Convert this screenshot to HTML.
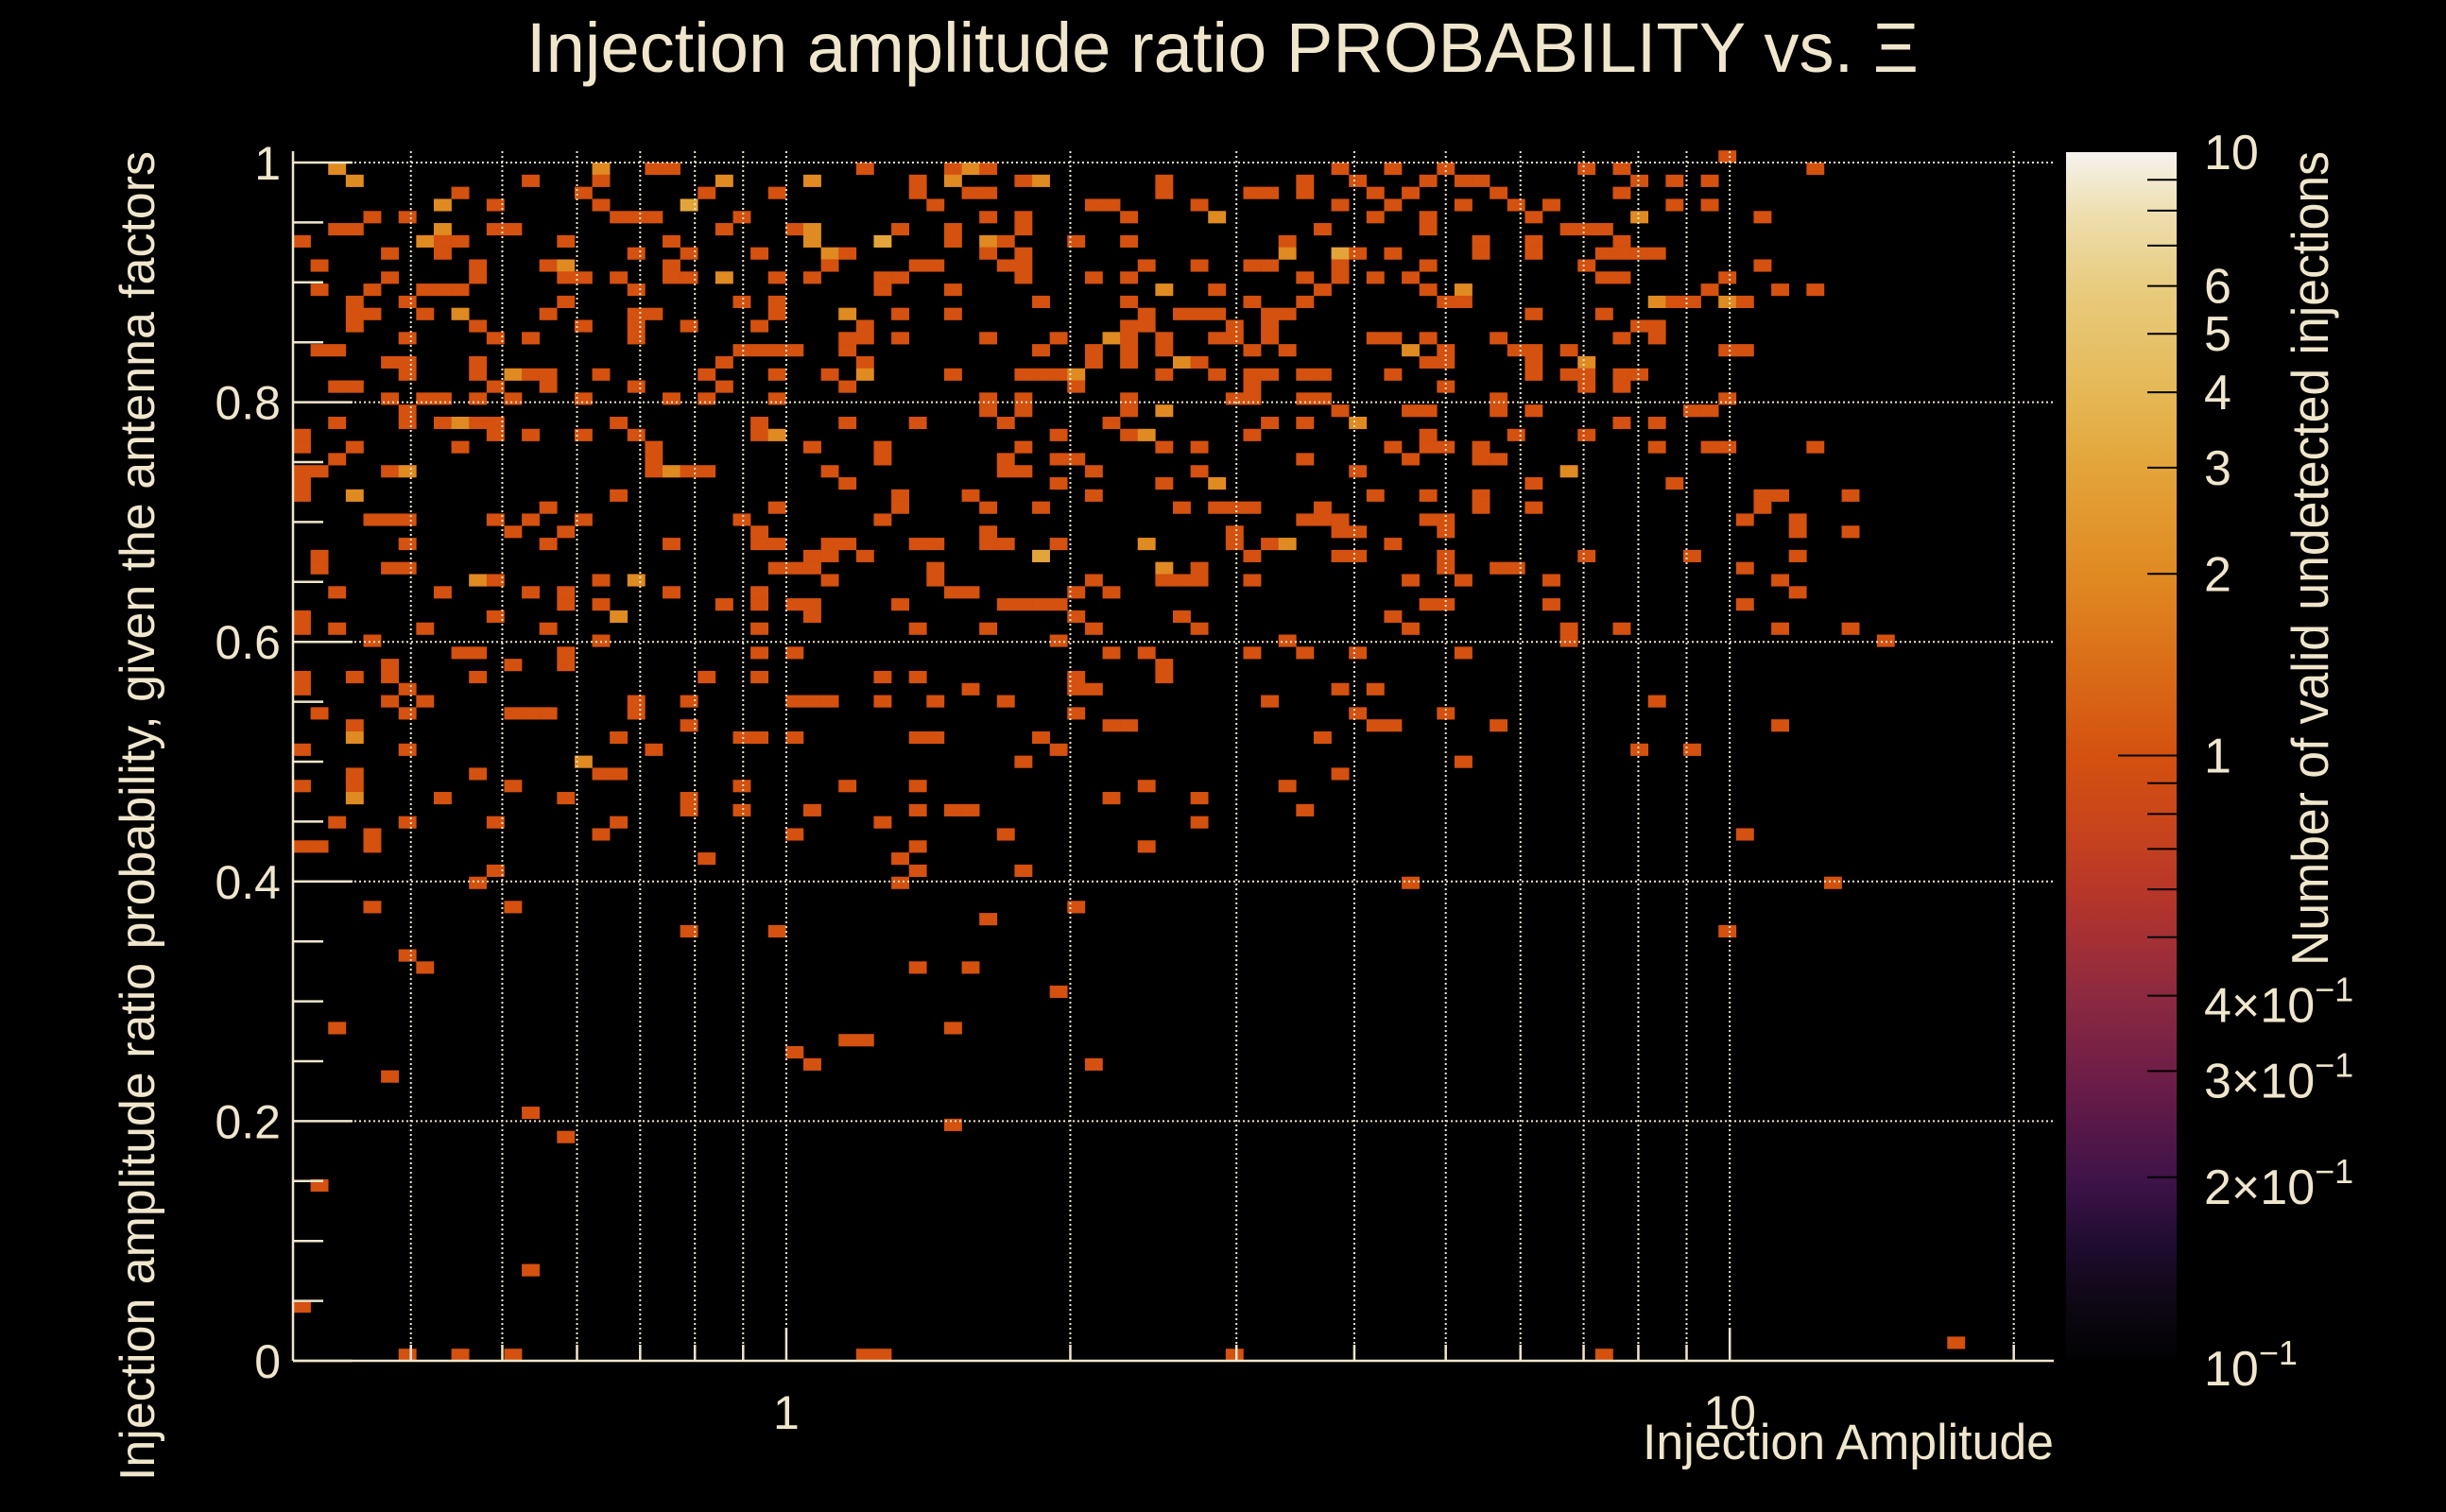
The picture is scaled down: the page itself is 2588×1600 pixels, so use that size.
<!DOCTYPE html>
<html><head><meta charset="utf-8">
<style>
html,body{margin:0;padding:0;background:#000;}
svg{display:block;}
text{font-family:"Liberation Sans",Arial,sans-serif;fill:#efe6cc;}
</style></head>
<body>
<svg id="chart" width="2588" height="1600" viewBox="0 0 2588 1600" xmlns="http://www.w3.org/2000/svg">
<defs>
<linearGradient id="cbgrad" x1="0" y1="1" x2="0" y2="0">
<stop offset="0" stop-color="#020204"/>
<stop offset="0.043" stop-color="#0d0712"/>
<stop offset="0.095" stop-color="#1f0c30"/>
<stop offset="0.147" stop-color="#3e1348"/>
<stop offset="0.226" stop-color="#6a1c48"/>
<stop offset="0.304" stop-color="#8e2a40"/>
<stop offset="0.382" stop-color="#b5352a"/>
<stop offset="0.44" stop-color="#c8441c"/>
<stop offset="0.5" stop-color="#d4510f"/>
<stop offset="0.65" stop-color="#e08a22"/>
<stop offset="0.74" stop-color="#e3a53a"/>
<stop offset="0.80" stop-color="#e5b855"/>
<stop offset="0.89" stop-color="#e8cc80"/>
<stop offset="0.95" stop-color="#eedfb0"/>
<stop offset="1" stop-color="#f5f3ee"/>
</linearGradient>
</defs>
<rect x="0" y="0" width="2588" height="1600" fill="#000"/>
<g id="cells"></g>
<g id="grid"></g>
<g id="axes"></g>
<text x="557" y="76" font-size="74" textLength="1473" lengthAdjust="spacingAndGlyphs">Injection amplitude ratio PROBABILITY vs.  Ξ</text>
<text x="2173" y="1544" font-size="53" text-anchor="end" textLength="435" lengthAdjust="spacingAndGlyphs">Injection Amplitude</text>
<text transform="translate(163,1567) rotate(-90)" x="0" y="0" font-size="52" textLength="1407" lengthAdjust="spacingAndGlyphs">Injection amplitude ratio probability, given the antenna factors</text>
<rect x="2186" y="161" width="117" height="1277" fill="url(#cbgrad)"/>
<g id="cbaxis"></g>
<text transform="translate(2463,1022) rotate(-90)" x="0" y="0" font-size="55" textLength="862" lengthAdjust="spacingAndGlyphs">Number of valid undetected injections</text>
</svg>
<script>
// ---- data ----
const ampMin = 0.3, ampMax = 22, nAmpBins = 100;
const probBinWidth = 1/99;
// probability bin index (bottom-up) of each row group
const probRows = [99,98,97,96,95,94,93,92,91,90,89,88,87,86,85,84,83,82,81,80,79,78,77,76,75,74,73,72,71,70,69,68,67,66,65,64,63,62,61,60,59,58,57,56,55,54,53,52,51,50,49,48,47,46,45,44,43,42,41,40,39,37,36,35,33,32,30,27,26,25,24,23,20,19,18,14,7,4,1,0];
// amplitude (log) bin indices filled in each row group
const ampBinsByRow = [
[81],
[2,17,20,21,32,37,38,39,59,62,65,73,75,86],
[3,13,17,24,29,35,37,41,42,49,57,60,64,66,67,76,78,80],
[9,16,23,27,35,38,39,49,54,55,57,61,63,68,75],
[8,11,17,22,36,45,46,51,59,62,66,69,71,78,80],
[4,6,18,19,20,25,39,41,47,52,61,64,70,76,83],
[2,3,8,11,12,24,28,29,34,37,41,58,64,72,73,74],
[0,7,8,9,15,21,29,33,37,39,40,44,47,56,67,70,75],
[5,8,19,22,26,30,31,39,41,56,59,60,62,67,70,74,75,76,77],
[1,10,14,15,21,30,35,36,40,41,48,51,54,55,59,64,73,83],
[5,10,15,16,18,21,22,24,27,29,33,34,41,45,47,57,59,61,63,74,75,81],
[1,4,7,8,9,19,33,37,49,52,58,64,66,80,84,86],
[3,6,15,25,27,42,47,54,57,65,66,77,78,79,81,82],
[3,4,7,9,14,19,20,27,31,34,37,48,50,51,52,55,56,70,74],
[3,10,16,19,22,26,32,47,48,53,55,76,77],
[6,11,13,19,31,32,34,39,43,46,47,49,52,53,55,61,62,64,68,75,77],
[1,2,25,26,27,28,31,42,45,47,49,54,56,63,65,69,70,72,81,82],
[5,6,10,24,32,45,47,50,51,64,65,70,73],
[6,10,12,13,14,17,23,27,30,32,37,41,42,43,44,49,52,54,55,57,58,62,70,72,73,75,76],
[2,3,11,14,19,24,31,44,54,65,73,75],
[5,7,8,10,12,16,21,23,27,39,41,47,53,54,57,58,68,81],
[6,39,41,47,49,59,63,64,68,70,79,80],
[2,6,8,9,10,11,18,26,31,35,40,46,55,57,60,75,77],
[0,11,13,16,19,26,27,43,47,48,54,64,69,73],
[0,3,9,20,29,33,41,49,51,62,64,65,67,77,80,81,86],
[2,20,33,40,43,44,57,63,67,68],
[0,1,5,6,20,21,22,23,30,40,41,45,51,60,72],
[0,31,43,49,52,70,78],
[0,3,18,34,38,45,61,64,67,83,84,88],
[14,27,34,39,42,50,52,53,54,58,67,70,83],
[4,5,6,11,13,16,25,33,57,58,59,64,65,82,85],
[12,15,26,39,53,59,60,65,85,88],
[6,14,21,26,27,30,31,35,36,39,40,43,48,53,55,56,62],
[1,29,30,32,42,54,59,60,65,73,79,85],
[1,5,6,27,28,29,36,49,51,65,68,69,82],
[10,11,17,19,30,36,45,49,50,51,54,63,66,71,84],
[2,8,13,15,21,26,37,38,44,46,85],
[15,17,24,26,28,29,34,40,41,42,43,64,65,71,82],
[0,11,18,29,44,50,62],
[0,2,7,14,26,35,39,45,51,63,72,75,84,88],
[4,17,43,56,72,90],
[9,10,15,26,28,46,48,54,57,60,66],
[5,12,15,49],
[0,3,5,10,23,26,33,35,44,49],
[0,6,38,44,45,59,61],
[5,7,19,22,28,29,30,33,36,40,55,77],
[1,6,12,13,14,19,44,60,65],
[3,22,46,47,61,62,68,84],
[3,18,25,26,28,35,36,42,58],
[0,6,20,43,76,79],
[16,41,66],
[3,10,17,18,59],
[0,3,12,25,31,35,48,56],
[3,8,15,22,46,51],
[22,25,29,35,37,38,57],
[2,6,11,18,33,51],
[4,17,28,40,82],
[0,1,4,35,48],
[23,34],
[11,35,41],
[10,34,63,87],
[4,12,44],
[39],
[22,27,81],
[6],
[7,35,38],
[43],
[2,37],
[31,32],
[28],
[29,45],
[5],
[13],
[37],
[15],
[1],
[13],
[0],
[94],
[6,9,12,32,33,53,74]
];
// cells with more than one entry (all others have count 1)
const hiProbBin = [98,98,98,97,97,97,97,97,95,95,94,94,93,93,92,92,92,92,91,91,91,90,89,88,88,87,87,86,86,84,83,82,82,81,81,81,78,77,77,76,76,73,73,73,72,71,67,67,66,65,64,64,61,51,49,46];
const hiAmpBin  = [2,17,38,3,24,29,37,42,8,22,52,76,8,29,7,29,33,39,30,56,59,15,24,49,66,77,81,9,31,46,63,50,73,12,32,44,49,9,60,27,48,6,21,72,52,3,48,56,42,49,10,19,18,3,16,3];
const hiCount   = [2,2,2,2,2,2,2,2,2,3,2,2,2,2,2,2,3,2,2,2,3,2,2,2,2,2,2,2,2,2,2,2,2,2,2,2,2,2,2,2,2,2,2,2,2,2,2,2,3,2,2,2,2,2,2,2];
// axis tick values
const yTickVals = [0,0.2,0.4,0.6,0.8,1];
const yTickLabels = ["0","0.2","0.4","0.6","0.8","1"];
const xGridVals = [0.4,0.5,0.6,0.7,0.8,0.9,1,2,3,4,5,6,7,8,9,10,20];
const xLabelVals = [1,10];
const xLabels = ["1","10"];
const cbLabelVals = [10,6,5,4,3,2,1,0.4,0.3,0.2,0.1];
const cbLabelMant = ["10","6","5","4","3","2","1","4×10","3×10","2×10","10"];
const cbLabelExp = ["","","","","","","","−1","−1","−1","−1"];
const cbTickVals = [0.2,0.3,0.4,0.5,0.6,0.7,0.8,0.9,1,2,3,4,5,6,7,8,9];

// ---- scales ----
const PL=310, PR=2172, PB=1440, PT1=172;
const lmin=Math.log10(ampMin), lmax=Math.log10(ampMax);
function xScale(v){return PL+(Math.log10(v)-lmin)/(lmax-lmin)*(PR-PL);}
function yScale(v){return PB-v*(PB-PT1);}
function ampEdge(j){return Math.pow(10,lmin+j*(lmax-lmin)/nAmpBins);}
const CBT=161, CBB=1438;
function cbScale(v){return CBB-(Math.log10(v)+1)/2*(CBB-CBT);}
const stops=[[0,[2,2,4]],[0.043,[13,7,18]],[0.095,[31,12,48]],[0.147,[62,19,72]],[0.226,[106,28,72]],[0.304,[142,42,64]],[0.382,[181,53,42]],[0.44,[200,68,28]],[0.5,[212,81,15]],[0.65,[224,138,34]],[0.74,[227,165,58]],[0.8,[229,184,85]],[0.89,[232,204,128]],[0.95,[238,223,176]],[1,[245,243,238]]];
function colorFor(n){
  let t=(Math.log10(n)+1)/2; t=Math.max(0,Math.min(1,t));
  for(let i=1;i<stops.length;i++){
    if(t<=stops[i][0]){const a=stops[i-1],b=stops[i];const f=(t-a[0])/(b[0]-a[0]);
      const c=a[1].map((x,k)=>Math.round(x+(b[1][k]-x)*f));return `rgb(${c[0]},${c[1]},${c[2]})`;}
  }
  return "rgb(245,243,238)";
}
const NS="http://www.w3.org/2000/svg";
function mk(tag,attrs,parent){const e=document.createElementNS(NS,tag);for(const k in attrs)e.setAttribute(k,attrs[k]);parent.appendChild(e);return e;}

// ---- cells ----
const gCells=document.getElementById('cells');
for(let r=0;r<probRows.length;r++){
  const pi=probRows[r];
  const y0=yScale((pi+1)*probBinWidth), y1=yScale(pi*probBinWidth);
  for(const aj of ampBinsByRow[r]){
    let n=1;
    for(let h=0;h<hiProbBin.length;h++){if(hiProbBin[h]===pi&&hiAmpBin[h]===aj)n=hiCount[h];}
    const x0=xScale(ampEdge(aj)), x1=xScale(ampEdge(aj+1));
    const rc=mk('rect',{x:x0.toFixed(2),y:y0.toFixed(2),width:(x1-x0+0.3).toFixed(2),height:(y1-y0+0.3).toFixed(2),fill:colorFor(n)},gCells);
    
    
  }
}

// ---- grid ----
const gGrid=document.getElementById('grid');
const gs={stroke:"#efe6cc","stroke-width":2,"stroke-dasharray":"2,3"};
for(const v of xGridVals){
  const x=xScale(v);
  const l=mk('line',Object.assign({x1:x,x2:x,y1:160,y2:PB},gs),gGrid);
  
  
}
for(const v of [0.2,0.4,0.6,0.8,1]){
  const y=yScale(v);
  const l=mk('line',Object.assign({x1:PL,x2:PR,y1:y,y2:y},gs),gGrid);
  
  
}

// ---- axes ----
const gAx=document.getElementById('axes');
const ax={stroke:"#efe6cc","stroke-width":2.5};
let yl=mk('line',Object.assign({x1:PL,x2:PL,y1:160,y2:PB},ax),gAx);


let xl=mk('line',Object.assign({x1:PL,x2:PR+1,y1:PB,y2:PB},ax),gAx);


for(let i=0;i<=20;i++){
  const v=i*0.05, y=yScale(v), len=(i%4===0)?63:32;
  const t=mk('line',Object.assign({x1:PL,x2:PL+len,y1:y,y2:y},ax),gAx);
  
  
}
for(const v of xGridVals){
  const x=xScale(v), len=(v===1||v===10)?35:17;
  const t=mk('line',Object.assign({x1:x,x2:x,y1:PB,y2:PB-len},ax),gAx);
  
  
}
yTickVals.forEach((v,i)=>{
  const t=mk('text',{x:297,y:yScale(v)+18,"font-size":50,"text-anchor":"end"},gAx);
  t.textContent=yTickLabels[i];
  
  
});
xLabelVals.forEach((v,i)=>{
  const t=mk('text',{x:xScale(v),y:1512,"font-size":50,"text-anchor":"middle"},gAx);
  t.textContent=xLabels[i];
  
  
});

// ---- colorbar axis ----
const gCb=document.getElementById('cbaxis');
for(const v of cbTickVals){
  const y=cbScale(v), len=(v===1)?62:31;
  const t=mk('line',{x1:2303-len,x2:2303,y1:y,y2:y,stroke:"#000","stroke-width":2},gCb);
  
  
}
cbLabelVals.forEach((v,i)=>{
  const off = cbLabelExp[i] ? 28 : 18;
  const t=mk('text',{x:2332,y:cbScale(v)+off,"font-size":52},gCb);
  
  
  const m=document.createElementNS(NS,'tspan');m.textContent=cbLabelMant[i];t.appendChild(m);
  if(cbLabelExp[i]){const e=document.createElementNS(NS,'tspan');e.setAttribute('dy','-22');e.setAttribute('font-size','36');e.textContent=cbLabelExp[i];t.appendChild(e);}
});
</script>
</body></html>
